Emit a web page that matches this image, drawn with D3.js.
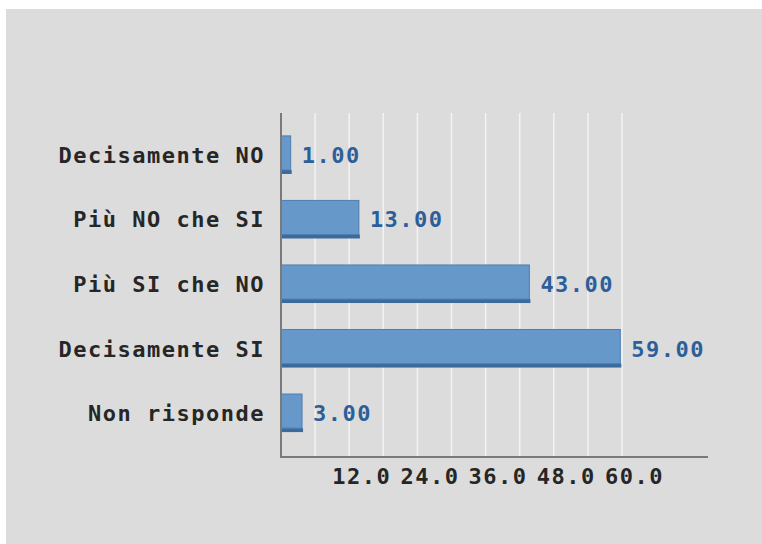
<!DOCTYPE html>
<html>
<head>
<meta charset="utf-8">
<script src="https://cdn.jsdelivr.net/npm/d3@7"></script>
<style>
  html, body { margin: 0; padding: 0; background: #ffffff; }
  svg { display: block; }
  text { font-family: "DejaVu Sans Mono", "Liberation Mono", monospace; font-weight: bold; }
</style>
</head>
<body>
<script>
const categories = ["Decisamente NO", "Più NO che SI", "Più SI che NO", "Decisamente SI", "Non risponde"];
const values = [1, 13, 43, 59, 3];
const tickValues = [12, 24, 36, 48, 60];
const gridValues = [6, 12, 18, 24, 30, 36, 42, 48, 54, 60];

const W = 762, H = 544;
const svg = d3.select("body").append("svg").attr("width", W).attr("height", H);

svg.append("rect").attr("x", 6).attr("y", 9).attr("width", W - 6).attr("height", H - 9).attr("fill", "#dcdcdc");

const x0 = 281, plotTop = 113, plotBottom = 457;
const x = d3.scaleLinear().domain([0, 60]).range([x0, 622]);
const y = d3.scaleBand().domain(categories).range([123, 445]).paddingInner(0.41).paddingOuter(0.2);

const FS = 22, LS = 1.5;

// grid
svg.append("g").selectAll("line").data(gridValues).join("line")
  .attr("x1", d => x(d)).attr("x2", d => x(d))
  .attr("y1", plotTop).attr("y2", plotBottom)
  .attr("stroke", "#f3f3f3").attr("stroke-width", 1.5);

// bars
const depth = 4;
const bars = svg.append("g").selectAll("g").data(categories).join("g");
bars.append("rect")
  .attr("x", x0).attr("y", d => y(d) + y.bandwidth() - depth)
  .attr("width", (d, i) => x(values[i]) + depth + 1 - x0).attr("height", depth)
  .attr("fill", "#3d6a9c");
bars.append("rect")
  .attr("x", x0).attr("y", d => y(d))
  .attr("width", (d, i) => x(values[i]) + depth - x0).attr("height", y.bandwidth() - depth)
  .attr("fill", "#6698ca").attr("stroke", "#4f7fb2").attr("stroke-width", 1);

// value labels
bars.append("text")
  .attr("x", (d, i) => x(values[i]) + depth + 11)
  .attr("y", d => y(d) + y.bandwidth() / 2 + 8)
  .attr("fill", "#2c5f99").attr("font-size", FS).attr("letter-spacing", LS)
  .text((d, i) => d3.format(".2f")(values[i]));

// category labels
svg.append("g").selectAll("text").data(categories).join("text")
  .attr("x", 265).attr("y", d => y(d) + y.bandwidth() / 2 + 8)
  .attr("text-anchor", "end")
  .attr("fill", "#262626").attr("font-size", FS).attr("letter-spacing", LS)
  .text(d => d);

// axes
svg.append("line").attr("x1", x0).attr("x2", x0).attr("y1", plotTop).attr("y2", plotBottom + 1)
  .attr("stroke", "#7a7a7a").attr("stroke-width", 2);
svg.append("line").attr("x1", x0).attr("x2", 708).attr("y1", plotBottom).attr("y2", plotBottom)
  .attr("stroke", "#7a7a7a").attr("stroke-width", 2);

// x tick labels
svg.append("g").selectAll("text").data(tickValues).join("text")
  .attr("x", d => x(d) - 17).attr("y", 484)
  .attr("fill", "#262626").attr("font-size", FS).attr("letter-spacing", LS)
  .text(d => d3.format(".1f")(d));
</script>
</body>
</html>
